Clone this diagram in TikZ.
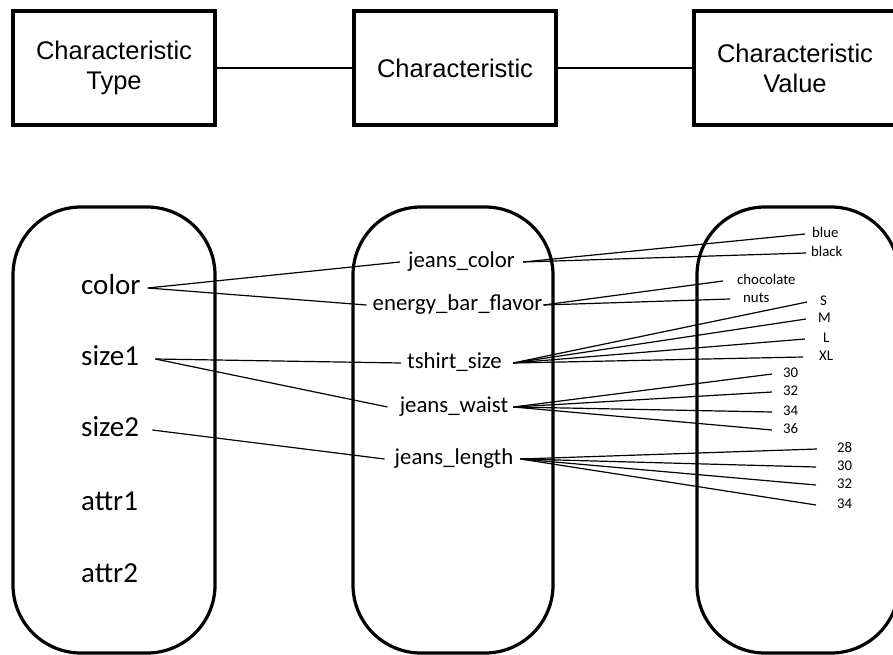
\documentclass[tikz,border=0pt]{standalone}
\usepackage{fontspec}
\setmainfont{Carlito}
\newfontfamily\headfont{Liberation Sans}
\begin{document}
\begin{tikzpicture}[x=1pt,y=-1pt,
  header/.style={draw, line width=3.5pt, minimum width=202pt, minimum height=114pt,
    align=center, inner sep=0pt, font=\headfont\fontsize{25.5}{30}\selectfont},
  link/.style={line width=1.5pt},
  group/.style={draw, line width=3.2pt, rounded corners=68pt},
  conn/.style={line width=1.2pt},
  lbl/.style={inner ysep=0pt, text depth=0pt},
  typ/.style={lbl, anchor=west, text height=13.5pt, font=\fontsize{29}{34}\selectfont},
  chr/.style={lbl, inner xsep=0pt, text height=10.6pt, font=\fontsize{22.8}{27}\selectfont},
  val/.style={lbl, anchor=west, text height=6.9pt, font=\fontsize{14.8}{17}\selectfont}]
\useasboundingbox[fill=white] (0,0) rectangle (893,655);

% header boxes
\node[header] (htype) at (114,68) {Characteristic\\Type};
\node[header] (hchar) at (455,68) {Characteristic};
\node[header] (hval)  at (795,68) {Characteristic\\Value};
\draw[link] (htype.east) -- (hchar.west);
\draw[link] (hchar.east) -- (hval.west);

% three groups
\draw[group] (13,207) rectangle (215,653);
\draw[group] (353,207) rectangle (553,653);
\draw[group] (697,207) rectangle (899,653);

% characteristic types
\node[typ, inner xsep=7pt]  (color) at (74,288) {color};
\node[typ, inner xsep=16pt] (size1) at (65,359) {size1};
\node[typ, inner xsep=13pt] (size2) at (68,430) {size2};
\node[typ, inner xsep=0pt]  (attr1) at (81,504) {attr1};
\node[typ, inner xsep=0pt]  (attr2) at (81,576) {attr2};

% characteristics
\node[chr] (jc)  at (461.5,262) {jeans\_color};
\node[chr] (ebf) at (457.5,305) {energy\_bar\_flavor};
\node[chr] (ts)  at (454.5,363) {tshirt\_size};
\node[chr] (jw)  at (454,407)   {jeans\_waist};
\node[chr] (jl)  at (454,459)   {jeans\_length};

% characteristic values
\node[val, inner xsep=7pt]  (blue)  at (805,234) {blue};
\node[val, inner xsep=5pt]  (black) at (806,253) {black};
\node[val, inner xsep=14pt] (choc)  at (723,281) {chocolate};
\node[val, inner xsep=13pt] (nuts)  at (730,299) {nuts};
\node[val, inner xsep=13pt] (sS)    at (807,302) {S};
\node[val, inner xsep=12pt] (sM)    at (806,319) {M};
\node[val, inner xsep=18pt] (sL)    at (805,339) {L};
\node[val, inner xsep=16pt] (sXL)   at (803,357) {XL};
\node[val, inner xsep=11pt] (w30)   at (772,374) {30};
\node[val, inner xsep=11pt] (w32)   at (772,392) {32};
\node[val, inner xsep=11pt] (w34)   at (772,412) {34};
\node[val, inner xsep=11pt] (w36)   at (772,430) {36};
\node[val, inner xsep=20pt] (l28)   at (817,449) {28};
\node[val, inner xsep=21pt] (l30)   at (816,467) {30};
\node[val, inner xsep=21pt] (l32)   at (816,485) {32};
\node[val, inner xsep=21pt] (l34)   at (816,505) {34};

% type -> characteristic
\draw[conn] (color.east) -- ([xshift=-8pt]jc.west);
\draw[conn] (color.east) -- ([xshift=-6pt]ebf.west);
\draw[conn] (size1.east) -- ([xshift=-6pt]ts.west);
\draw[conn] (size1.east) -- ([xshift=-12pt]jw.west);
\draw[conn] (size2.east) -- ([xshift=-10pt]jl.west);

% characteristic -> value
\foreach \v in {blue,black}  \draw[conn] ([xshift=8pt]jc.east) -- (\v.west);
\foreach \v in {choc,nuts}   \draw[conn] ([xshift=1pt]ebf.east) -- (\v.west);
\foreach \v in {sS,sM,sL,sXL} \draw[conn] ([xshift=11pt]ts.east) -- (\v.west);
\foreach \v in {w30,w32,w34,w36} \draw[conn] ([xshift=5pt]jw.east) -- (\v.west);
\foreach \v in {l28,l30,l32,l34} \draw[conn] ([xshift=7pt]jl.east) -- (\v.west);
\end{tikzpicture}
\end{document}
